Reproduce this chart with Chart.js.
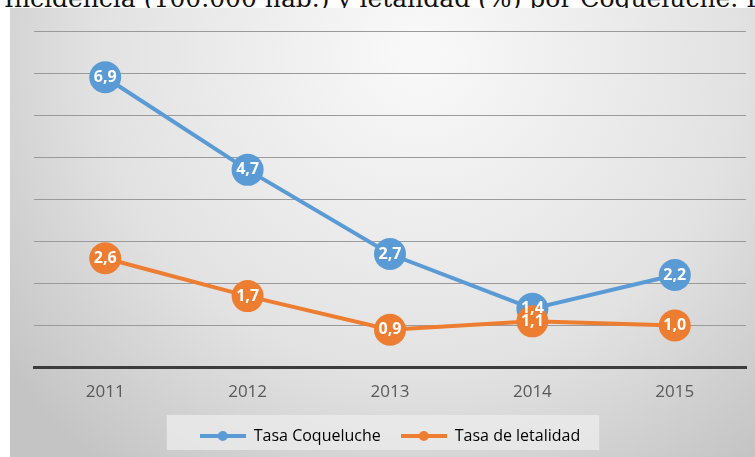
<!DOCTYPE html>
<html>
<head>
<meta charset="utf-8">
<script src="https://cdn.jsdelivr.net/npm/chart.js@4"></script>
<style>
  body { margin: 0; width: 755px; height: 457px; overflow: hidden; background: #fff; position: relative; }
  #titulo { position: absolute; left: 4px; top: -16px; font: 25px "DejaVu Serif", serif; color: #111; white-space: nowrap; }
  #caja { position: absolute; left: 10px; top: 8px; width: 745px; height: 449px; }
</style>
</head>
<body>
<div id="titulo">Incidencia (100.000 hab.) y letalidad (%) por Coqueluche. Región</div>
<div id="caja"><canvas id="myChart"></canvas></div>
<script>
const anios = ['2011', '2012', '2013', '2014', '2015'];
const tasaCoqueluche = [6.9, 4.7, 2.7, 1.4, 2.2];
const tasaLetalidad = [2.6, 1.7, 0.9, 1.1, 1.0];
const nombres = ['Tasa Coqueluche', 'Tasa de letalidad'];
const colores = ['#5b9bd5', '#ed7d31'];

function iconoLeyenda(color) {
  const c = document.createElement('canvas');
  c.width = 46; c.height = 12;
  const x = c.getContext('2d');
  x.strokeStyle = color; x.lineWidth = 4;
  x.beginPath(); x.moveTo(0, 6); x.lineTo(46, 6); x.stroke();
  x.fillStyle = color;
  x.beginPath(); x.arc(23, 6, 5, 0, Math.PI * 2); x.fill();
  return c;
}

const fondo = {
  id: 'fondo',
  beforeDraw(chart) {
    const ctx = chart.ctx, w = chart.width, h = chart.height;
    const g = ctx.createRadialGradient(w * 0.55, h * 0.1, 20, w * 0.55, h * 0.1, w * 0.7);
    g.addColorStop(0, '#f8f8f8');
    g.addColorStop(0.6, '#e2e2e2');
    g.addColorStop(1, '#c4c4c4');
    ctx.save();
    ctx.fillStyle = g;
    ctx.fillRect(0, 0, w, h);
    const cajas = chart.legend.legendHitBoxes;
    if (cajas && cajas.length) {
      const ult = cajas[cajas.length - 1];
      const izq = cajas[0].left - 33, der = ult.left + ult.width + 19;
      ctx.fillStyle = 'rgba(235,235,235,0.8)';
      ctx.fillRect(izq, cajas[0].top - 13, der - izq, 35);
    }
    ctx.restore();
  }
};

const etiquetas = {
  id: 'etiquetas',
  afterDatasetsDraw(chart) {
    const ctx = chart.ctx;
    ctx.save();
    ctx.font = 'bold 16px "Open Sans", sans-serif';
    ctx.fillStyle = '#fff';
    ctx.textAlign = 'center';
    ctx.textBaseline = 'middle';
    chart.data.datasets.forEach((ds, i) => {
      chart.getDatasetMeta(i).data.forEach((p, j) => {
        ctx.fillText(ds.data[j].toFixed(1).replace('.', ','), p.x, p.y);
      });
    });
    ctx.restore();
  }
};

new Chart(document.getElementById('myChart'), {
  type: 'line',
  data: {
    labels: anios,
    datasets: [
      { label: nombres[0], data: tasaCoqueluche, borderColor: colores[0], backgroundColor: colores[0], borderWidth: 4, pointRadius: 16, pointBorderWidth: 0, order: 2 },
      { label: nombres[1], data: tasaLetalidad, borderColor: colores[1], backgroundColor: colores[1], borderWidth: 4, pointRadius: 16, pointBorderWidth: 0, order: 1 }
    ]
  },
  options: {
    responsive: true,
    maintainAspectRatio: false,
    animation: false,
    layout: { autoPadding: false, padding: { left: 24, right: 9, top: 23, bottom: 3 } },
    scales: {
      x: {
        offset: true,
        grid: { display: false, offset: true },
        border: { color: '#3c3c3c', width: 3 },
        ticks: { color: '#595959', font: { family: 'Open Sans', size: 17 }, padding: 6 }
      },
      y: {
        min: 0, max: 8,
        ticks: { stepSize: 1, display: false },
        grid: { color: '#9a9a9a', lineWidth: 1, drawTicks: false },
        border: { display: false }
      }
    },
    plugins: {
      tooltip: { enabled: false },
      legend: {
        position: 'bottom',
        labels: {
          usePointStyle: true,
          pointStyleWidth: 46,
          boxWidth: 46,
          color: '#404040',
          font: { family: 'Open Sans', size: 16 },
          padding: 20,
          generateLabels: (chart) => nombres.map((n, i) => ({
            text: n, pointStyle: iconoLeyenda(colores[i]), fillStyle: colores[i],
            strokeStyle: colores[i], lineWidth: 0, datasetIndex: i
          }))
        }
      }
    }
  },
  plugins: [fondo, etiquetas]
});
</script>
</body>
</html>
